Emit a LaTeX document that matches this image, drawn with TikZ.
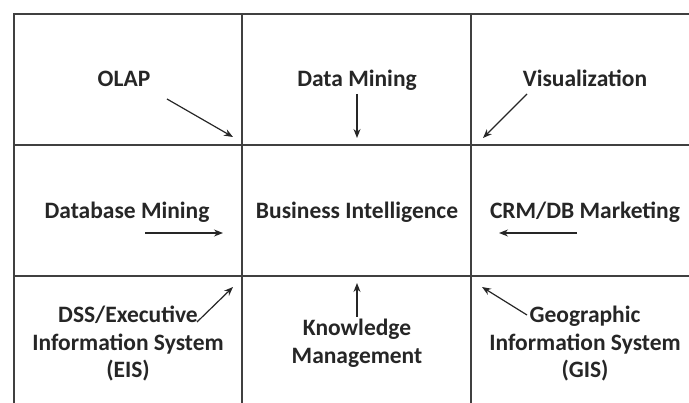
\documentclass[tikz,border=0pt]{standalone}
\usepackage{fontspec}
\setmainfont{Carlito}
\usetikzlibrary{arrows.meta}

\begin{document}
\begin{tikzpicture}[x=1pt,y=-1pt,
  lbl/.style={font=\bfseries\fontsize{23.5}{27.5}\selectfont, text=black!85, align=center, inner sep=0pt},
  gridline/.style={line width=2pt, color=black!75},
  arr/.style={-{Stealth[length=9pt,width=7pt]}, line width=1.2pt, color=black!85}]
\useasboundingbox (0,0) rectangle (689,403);

% grid
\draw[gridline] (14,403) -- (14,14) -- (689,14);
\draw[gridline] (14,145) -- (689,145);
\draw[gridline] (14,276) -- (689,276);
\draw[gridline] (242,14) -- (242,403);
\draw[gridline] (471,14) -- (471,403);

% labels
\node[lbl, anchor=base] (olap) at (124,87) {OLAP};
\node[lbl, anchor=base] (dm) at (357,87) {Data Mining};
\node[lbl, anchor=base] (vis) at (585,87) {Visualization};
\node[lbl, anchor=base] (dbm) at (127,219) {Database Mining};
\node[lbl, anchor=base] (bi) at (357,219) {Business Intelligence};
\node[lbl, anchor=base] (crm) at (585,219) {CRM/DB Marketing};
\node[lbl] (eis) at (128,344) {DSS/Executive\\Information System\\(EIS)};
\node[lbl] (km) at (357,343) {Knowledge\\Management};
\node[lbl] (gis) at (585,344) {Geographic\\Information System\\(GIS)};

% arrow ends
\coordinate (olapT) at (167,99);   \coordinate (olapH) at (233,137);
\coordinate (dmT) at (357,94);     \coordinate (dmH) at (357,138);
\coordinate (visT) at (527,94);    \coordinate (visH) at (483,138);
\coordinate (dbmT) at (145,233);   \coordinate (dbmH) at (223,233);
\coordinate (crmT) at (577,233);   \coordinate (crmH) at (499,233);
\coordinate (eisT) at (197,322);   \coordinate (eisH) at (233,287);
\coordinate (kmT) at (357,317);    \coordinate (kmH) at (357,283);
\coordinate (gisT) at (527,315);   \coordinate (gisH) at (482,287);

\draw[arr] (olapT) -- (olapH);
\draw[arr] (dmT) -- (dmH);
\draw[arr] (visT) -- (visH);
\draw[arr] (dbmT) -- (dbmH);
\draw[arr] (crmT) -- (crmH);
\draw[arr] (eisT) -- (eisH);
\draw[arr] (kmT) -- (kmH);
\draw[arr] (gisT) -- (gisH);
\end{tikzpicture}
\end{document}
